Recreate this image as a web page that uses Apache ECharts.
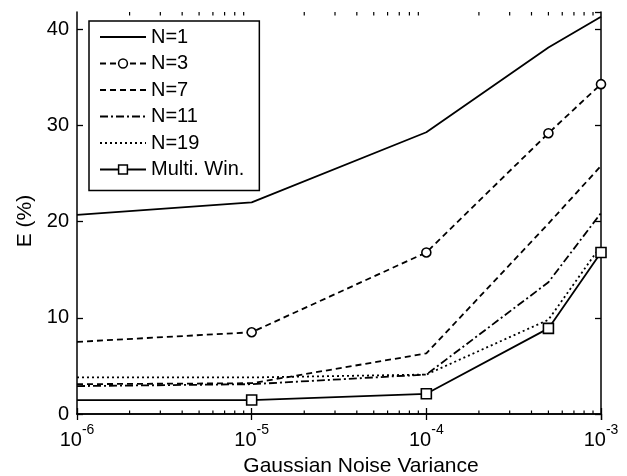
<!DOCTYPE html>
<html>
<head>
<meta charset="utf-8">
<script src="https://cdn.jsdelivr.net/npm/echarts@6/dist/echarts.min.js"></script>
<style>
    body { margin: 0; padding: 0; background: #fff; }
    #chart { width: 627px; height: 476px; }
</style>
</head>
<body>
<div id="chart"></div>
<script>
    // noise variance (x) and error E (%) for each window setting
    var variance = [1e-6, 1e-5, 1e-4, 5e-4, 1e-3];
    var n1 = [20.7, 22.0, 29.3, 38.1, 41.3];
    var n3 = [7.5, 8.5, 16.8, 29.2, 34.3];
    var n7 = [3.1, 3.2, 6.3, 19.8, 25.8];
    var n11 = [2.9, 3.1, 4.1, 13.7, 20.9];
    var n19 = [3.8, 3.8, 4.1, 9.8, 17.5];
    var multiWin = [1.45, 1.45, 2.1, 8.9, 16.8];
    var yTicks = [0, 10, 20, 30, 40];
    var minorMult = [2, 3, 4, 5, 6, 7, 8, 9];
    var decades = [1e-6, 1e-5, 1e-4];

    var font = "'Liberation Sans', Arial, sans-serif";
    var chart = echarts.init(document.getElementById('chart'));

    function pts(vals, marker) {
        return vals.map(function (v, i) {
            var item = { value: [variance[i], v] };
            // first point sits on the left edge, no marker drawn there
            if (marker && i === 0) item.symbol = 'none';
            return item;
        });
    }

    function line(name, vals, dash, symbol, size) {
        return {
            name: name,
            type: 'line',
            data: pts(vals, symbol !== 'none'),
            symbol: symbol,
            symbolSize: size || 8,
            showSymbol: symbol !== 'none',
            itemStyle: { color: '#fff', borderColor: '#000', borderWidth: 1.6 },
            lineStyle: { color: '#000', width: 1.8, type: dash },
            animation: false,
            z: 3
        };
    }

    function expLabel(v) {
        var e = Math.round(Math.log10(v));
        return '{base|10}{sup|' + e + '}';
    }

    // legend entry; plain lines get an invisible marker
    function legendItem(name, marker) {
        if (marker) return { name: name };
        return { name: name, itemStyle: { color: 'rgba(0,0,0,0)', borderColor: 'rgba(0,0,0,0)', borderWidth: 0 } };
    }

    var xBase = {
        type: 'log',
        logBase: 10,
        min: 1e-6,
        max: 1e-3,
        splitLine: { show: false },
        axisLine: { lineStyle: { color: '#000', width: 1.5 } },
        axisTick: { inside: true, length: 6, lineStyle: { color: '#000', width: 1.3 } }
    };
    var yBase = {
        type: 'value',
        min: 0,
        max: 41.8,
        interval: 10,
        splitLine: { show: false },
        axisLine: { show: true, lineStyle: { color: '#000', width: 1.5 } },
        axisTick: { inside: true, length: 6, lineStyle: { color: '#000', width: 1.3 } }
    };

    chart.setOption({
        backgroundColor: '#fff',
        animation: false,
        grid: { left: 77, right: 26, top: 12, bottom: 62, containLabel: false, outerBoundsMode: 'none' },
        legend: {
            orient: 'vertical',
            left: 89,
            top: 21,
            backgroundColor: '#fff',
            borderColor: '#000',
            borderWidth: 1.5,
            borderRadius: 0,
            padding: [6, 15, 11, 10],
            itemWidth: 46,
            itemHeight: 11,
            itemGap: 6.5,
            itemStyle: { color: '#fff', borderColor: '#000', borderWidth: 1.5 },
            textStyle: { fontFamily: font, fontSize: 20, color: '#000' },
            data: [
                legendItem('N=1', false),
                legendItem('N=3', true),
                legendItem('N=7', false),
                legendItem('N=11', false),
                legendItem('N=19', false),
                legendItem('Multi. Win.', true)
            ]
        },
        xAxis: [
            Object.assign({}, xBase, {
                position: 'bottom',
                name: 'Gaussian Noise Variance',
                nameLocation: 'middle',
                nameGap: 42,
                nameTextStyle: { fontFamily: font, fontSize: 21, color: '#000', padding: [0, 0, 0, 44] },
                axisLabel: {
                    margin: 9,
                    formatter: expLabel,
                    color: '#000',
                    fontFamily: font,
                    rich: {
                        base: { fontFamily: font, fontSize: 20, lineHeight: 27, verticalAlign: 'bottom', color: '#000' },
                        sup: { fontFamily: font, fontSize: 14, lineHeight: 14, verticalAlign: 'top', color: '#000' }
                    }
                }
            }),
            Object.assign({}, xBase, { position: 'top', axisLabel: { show: false } })
        ],
        yAxis: [
            Object.assign({}, yBase, {
                position: 'left',
                name: 'E (%)',
                nameLocation: 'middle',
                nameGap: 41,
                nameTextStyle: { fontFamily: font, fontSize: 21, color: '#000', padding: [0, 16, 0, 0] },
                axisLabel: {
                    color: '#000',
                    fontFamily: font,
                    fontSize: 20,
                    margin: 8,
                    showMaxLabel: false,
                    formatter: function (v) { return yTicks.indexOf(v) >= 0 ? String(v) : ''; }
                }
            }),
            Object.assign({}, yBase, { position: 'right', axisLabel: { show: false } })
        ],
        series: [
            line('N=1', n1, 'solid', 'none'),
            line('N=3', n3, [6, 4], 'circle', 9),
            line('N=7', n7, [6, 4], 'none'),
            line('N=11', n11, [8, 3, 2, 3], 'none'),
            line('N=19', n19, [2, 3], 'none'),
            line('Multi. Win.', multiWin, 'solid', 'rect', 10)
        ]
    });

    // log-axis minor ticks, placed through the axis scale
    var yBottom = chart.convertToPixel({ yAxisIndex: 0 }, 0);
    var yTop = chart.convertToPixel({ yAxisIndex: 0 }, 41.8);
    var minor = [];
    decades.forEach(function (d) {
        minorMult.forEach(function (m) {
            var x = chart.convertToPixel({ xAxisIndex: 0 }, d * m);
            minor.push({ type: 'line', shape: { x1: x, y1: yBottom, x2: x, y2: yBottom - 3.5 }, style: { stroke: '#000', lineWidth: 1.2 }, silent: true });
            minor.push({ type: 'line', shape: { x1: x, y1: yTop, x2: x, y2: yTop + 3.5 }, style: { stroke: '#000', lineWidth: 1.2 }, silent: true });
        });
    });
    chart.setOption({ graphic: minor });
</script>
</body>
</html>
